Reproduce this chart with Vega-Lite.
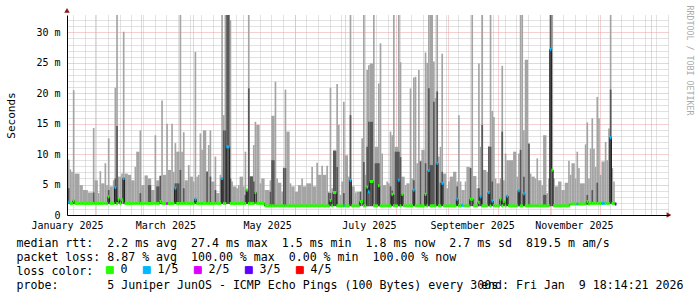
{
"$schema":"https://vega.github.io/schema/vega-lite/v6.json",
"width":602,"height":200,
"autosize":{"type":"none"},
"padding":{"left":67,"top":15,"right":28,"bottom":82},
"background":"white",
"config":{"view":{"stroke":null},"font":"DejaVu Sans Mono","axis":{"labelFont":"DejaVu Sans Mono","titleFont":"DejaVu Sans Mono","labelColor":"#000","titleColor":"#000","titleFontWeight":"normal","domainColor":"#000"}},
"data":{"values":[
{"t":"2025/1/15 12:00","e":"2025/1/17","b":1.8,"h":9.1,"d":4.4,"m":2.1,"l":1},
{"t":"2025/1/17","e":"2025/1/18","b":1.8,"h":7.5,"m":1.9,"l":0},
{"t":"2025/1/18","e":"2025/1/19","b":1.8,"h":7.1,"m":1.9,"l":0},
{"t":"2025/1/19","e":"2025/1/20","b":1.8,"h":20.5,"d":2.5,"m":2.3,"l":0},
{"t":"2025/1/20","e":"2025/1/23","b":1.8,"h":6.8,"m":1.9,"l":0},
{"t":"2025/1/23","e":"2025/1/25","b":1.8,"h":4.9,"m":1.9,"l":0},
{"t":"2025/1/25","e":"2025/1/28","b":1.8,"h":4.1,"m":1.9,"l":0},
{"t":"2025/1/28","e":"2025/1/31","b":1.8,"h":3.7,"m":1.9,"l":0},
{"t":"2025/1/31","e":"2025/2/1","b":1.8,"h":14.3,"d":3.7,"m":1.9,"l":0},
{"t":"2025/2/1","e":"2025/2/3","b":1.8,"h":5.7,"m":1.9,"l":0},
{"t":"2025/2/3","e":"2025/2/4","b":1.8,"h":3.6,"m":1.9,"l":0},
{"t":"2025/2/4","e":"2025/2/5","b":1.8,"h":7.2,"m":1.9,"l":0},
{"t":"2025/2/5","e":"2025/2/7","b":1.8,"h":5.2,"m":1.9,"l":0},
{"t":"2025/2/7","e":"2025/2/8","b":1.8,"h":8.5,"m":1.9,"l":0},
{"t":"2025/2/8","e":"2025/2/9","b":1.8,"h":4.9,"m":1.9,"l":0},
{"t":"2025/2/9","e":"2025/2/10","b":1.8,"h":12.6,"d":4.1,"m":3.0,"l":0},
{"t":"2025/2/10","e":"2025/2/12","b":1.8,"h":4.7,"m":1.9,"l":0},
{"t":"2025/2/12","e":"2025/2/13","b":1.8,"h":5.7,"m":1.9,"l":0},
{"t":"2025/2/13","e":"2025/2/14","b":1.8,"h":20.9,"d":6,"m":4.5,"l":1},
{"t":"2025/2/14","e":"2025/2/15","b":1.8,"h":34,"d":14.6,"m":1.9,"l":0},
{"t":"2025/2/15","e":"2025/2/16","b":1.8,"h":6.3,"m":2.6,"l":0},
{"t":"2025/2/16","e":"2025/2/17","b":1.8,"h":6.3,"m":1.9,"l":0},
{"t":"2025/2/17","e":"2025/2/18","b":1.8,"h":6.8,"m":2.5,"l":0},
{"t":"2025/2/18","e":"2025/2/19","b":1.8,"h":30.1,"d":6,"m":6,"l":1},
{"t":"2025/2/19","e":"2025/2/21","b":1.8,"h":6.8,"m":1.9,"l":0},
{"t":"2025/2/21","e":"2025/2/23","b":1.8,"h":6.6,"m":1.9,"l":0},
{"t":"2025/2/23","e":"2025/2/25","b":1.8,"h":5.7,"m":1.9,"l":0},
{"t":"2025/2/25","e":"2025/2/26","b":1.8,"h":7.9,"m":1.9,"l":0},
{"t":"2025/2/26","e":"2025/2/28","b":1.8,"h":10.4,"m":1.9,"l":0},
{"t":"2025/2/28","e":"2025/3/1","b":1.8,"h":13.9,"d":3.6,"m":1.9,"l":0},
{"t":"2025/3/1","e":"2025/3/3","b":1.8,"h":4.9,"m":1.9,"l":0},
{"t":"2025/3/3","e":"2025/3/5","b":1.8,"h":6.5,"m":1.9,"l":0},
{"t":"2025/3/5","e":"2025/3/7","b":1.8,"h":6.0,"d":4.9,"m":1.9,"l":0},
{"t":"2025/3/7","e":"2025/3/9","b":1.8,"h":4.1,"m":1.9,"l":0},
{"t":"2025/3/9","e":"2025/3/10","b":1.8,"h":13.1,"m":1.9,"l":0},
{"t":"2025/3/10","e":"2025/3/12","b":1.8,"h":5.7,"d":4.7,"m":1.9,"l":0},
{"t":"2025/3/12","e":"2025/3/13","b":1.8,"h":6.5,"d":6.4,"m":2.2,"l":0},
{"t":"2025/3/13","e":"2025/3/14","b":1.8,"h":18.8,"m":1.9,"l":0},
{"t":"2025/3/14","e":"2025/3/16","b":1.8,"h":6.6,"m":1.9,"l":0},
{"t":"2025/3/16","e":"2025/3/17","b":1.8,"h":15,"m":1.9,"l":2},
{"t":"2025/3/17","e":"2025/3/19","b":1.8,"h":7.4,"m":1.9,"l":0},
{"t":"2025/3/19","e":"2025/3/20","b":1.8,"h":15,"m":1.9,"l":0},
{"t":"2025/3/20","e":"2025/3/21","b":1.8,"h":7.1,"m":1.9,"l":0},
{"t":"2025/3/21","e":"2025/3/22","b":1.8,"h":11.8,"d":5.2,"m":4.4,"l":1},
{"t":"2025/3/22","e":"2025/3/24","b":1.8,"h":10.4,"d":5.2,"m":1.9,"l":0},
{"t":"2025/3/24","e":"2025/3/25","b":1.8,"h":34,"d":7.4,"m":1.9,"l":0},
{"t":"2025/3/25","e":"2025/3/26","b":1.8,"h":10.4,"m":1.9,"l":0},
{"t":"2025/3/26","e":"2025/3/27","b":1.8,"h":13.6,"d":4.4,"m":1.9,"l":0},
{"t":"2025/3/27","e":"2025/3/29","b":1.8,"h":5.7,"m":1.9,"l":0},
{"t":"2025/3/29","e":"2025/3/30","b":1.8,"h":8.2,"m":1.9,"l":0},
{"t":"2025/3/30","e":"2025/4/1","b":1.8,"h":6.3,"m":1.9,"l":0},
{"t":"2025/4/1","e":"2025/4/2","b":1.8,"h":5.5,"m":1.9,"l":0},
{"t":"2025/4/2","e":"2025/4/3","b":1.8,"h":26.8,"d":2.6,"m":2.6,"l":1},
{"t":"2025/4/3","e":"2025/4/4","b":1.8,"h":6.3,"m":1.9,"l":0},
{"t":"2025/4/4","e":"2025/4/5","b":1.8,"h":6.6,"m":1.9,"l":0},
{"t":"2025/4/5","e":"2025/4/6","b":1.8,"h":13.4,"m":1.9,"l":0},
{"t":"2025/4/6","e":"2025/4/7","b":1.8,"h":10.7,"m":1.9,"l":0},
{"t":"2025/4/7","e":"2025/4/9","b":1.8,"h":13.9,"m":1.9,"l":0},
{"t":"2025/4/9","e":"2025/4/10","b":1.8,"h":7.2,"d":7.1,"m":1.9,"l":0},
{"t":"2025/4/10","e":"2025/4/11","b":1.8,"h":11.5,"m":1.9,"l":0},
{"t":"2025/4/11","e":"2025/4/12","b":1.8,"h":13.9,"d":6.3,"m":1.9,"l":0},
{"t":"2025/4/12","e":"2025/4/14","b":1.8,"h":5.5,"m":1.9,"l":0},
{"t":"2025/4/14","e":"2025/4/15","b":1.8,"h":9.6,"d":4.1,"m":1.9,"l":0},
{"t":"2025/4/15","e":"2025/4/17","b":1.8,"h":3.6,"m":1.9,"l":0},
{"t":"2025/4/17","e":"2025/4/18","b":1.8,"h":6.6,"m":1.9,"l":0},
{"t":"2025/4/18","e":"2025/4/19","b":1.8,"h":34,"d":6,"m":6,"l":1},
{"t":"2025/4/19","e":"2025/4/20","b":1.8,"h":16.4,"d":13.9,"m":1.9,"l":0},
{"t":"2025/4/20","e":"2025/4/21","b":1.8,"h":34,"d":13.9,"m":1.9,"l":0},
{"t":"2025/4/21","e":"2025/4/23","b":1.8,"h":34,"d":34,"m":11.2,"l":1},
{"t":"2025/4/23","e":"2025/4/24","b":1.8,"h":32,"d":6,"m":1.9,"l":0},
{"t":"2025/4/24","e":"2025/4/25","b":1.8,"h":5.5,"m":1.9,"l":0},
{"t":"2025/4/25","e":"2025/4/27","b":1.8,"h":4.7,"m":1.9,"l":0},
{"t":"2025/4/27","e":"2025/4/28","b":1.8,"h":4.4,"m":1.9,"l":0},
{"t":"2025/4/28","e":"2025/4/29","b":1.8,"h":4.9,"m":1.9,"l":0},
{"t":"2025/4/29","e":"2025/5/1","b":1.8,"h":6.3,"m":1.9,"l":0},
{"t":"2025/5/1","e":"2025/5/2","b":1.8,"h":4.7,"m":1.9,"l":0},
{"t":"2025/5/2","e":"2025/5/3","b":1.8,"h":10.4,"d":3.3,"m":1.9,"l":0},
{"t":"2025/5/3","e":"2025/5/4","b":1.8,"h":4.2,"d":4.1,"m":4.1,"l":0},
{"t":"2025/5/4","e":"2025/5/5","b":1.8,"h":34,"d":20.8,"m":1.9,"l":0},
{"t":"2025/5/5","e":"2025/5/7","b":1.8,"h":6.4,"d":6.3,"m":1.9,"l":0},
{"t":"2025/5/7","e":"2025/5/8","b":1.8,"h":11.5,"d":5.5,"m":1.9,"l":0},
{"t":"2025/5/8","e":"2025/5/9","b":1.8,"h":15.3,"m":3.7,"l":0},
{"t":"2025/5/9","e":"2025/5/11","b":1.8,"h":14.8,"m":1.9,"l":0},
{"t":"2025/5/11","e":"2025/5/12","b":1.8,"h":5.2,"m":1.9,"l":0},
{"t":"2025/5/12","e":"2025/5/14","b":1.8,"h":6.0,"m":1.9,"l":0},
{"t":"2025/5/14","e":"2025/5/17","b":1.45,"h":4.1,"m":1.5,"l":0},
{"t":"2025/5/17","e":"2025/5/18","b":1.45,"h":5.7,"d":3.8,"m":1.5,"l":0},
{"t":"2025/5/18","e":"2025/5/20","b":1.45,"h":16.3,"d":9.0,"m":1.5,"l":0},
{"t":"2025/5/20","e":"2025/5/21","b":1.45,"h":21.9,"m":1.5,"l":0},
{"t":"2025/5/21","e":"2025/5/22","b":1.45,"h":6.0,"m":1.5,"l":0},
{"t":"2025/5/22","e":"2025/5/24","b":1.45,"h":5.3,"m":1.5,"l":0},
{"t":"2025/5/24","e":"2025/5/25","b":1.45,"h":3.8,"m":1.5,"l":0},
{"t":"2025/5/25","e":"2025/5/26","b":1.45,"h":7.8,"d":7.7,"m":1.5,"l":0},
{"t":"2025/5/26","e":"2025/5/27","b":1.45,"h":20.6,"d":7.7,"m":1.5,"l":0},
{"t":"2025/5/27","e":"2025/5/29","b":1.45,"h":13.7,"m":1.5,"l":0},
{"t":"2025/5/29","e":"2025/5/30","b":1.45,"h":5.2,"m":1.5,"l":0},
{"t":"2025/5/30","e":"2025/6/1","b":1.45,"h":4.7,"m":1.5,"l":0},
{"t":"2025/6/1","e":"2025/6/3","b":1.45,"h":3.8,"m":1.5,"l":0},
{"t":"2025/6/3","e":"2025/6/5","b":1.45,"h":4.9,"m":1.5,"l":0},
{"t":"2025/6/5","e":"2025/6/6","b":1.45,"h":6.0,"m":1.5,"l":0},
{"t":"2025/6/6","e":"2025/6/8","b":1.45,"h":4.7,"m":1.5,"l":0},
{"t":"2025/6/8","e":"2025/6/11","b":1.45,"h":5.2,"m":1.5,"l":0},
{"t":"2025/6/11","e":"2025/6/12","b":1.45,"h":7.9,"m":1.5,"l":0},
{"t":"2025/6/12","e":"2025/6/14","b":1.45,"h":4.7,"m":1.5,"l":0},
{"t":"2025/6/14","e":"2025/6/15","b":1.45,"h":8.6,"m":1.5,"l":0},
{"t":"2025/6/15","e":"2025/6/17","b":1.45,"h":6.6,"m":1.5,"l":0},
{"t":"2025/6/17","e":"2025/6/18","b":1.45,"h":8.1,"m":1.5,"l":0},
{"t":"2025/6/18","e":"2025/6/20","b":1.45,"h":6.6,"m":1.5,"l":0},
{"t":"2025/6/20","e":"2025/6/21","b":1.45,"h":8.1,"m":1.5,"l":0},
{"t":"2025/6/21","e":"2025/6/22","b":1.45,"h":3.8,"d":3.6,"m":1.5,"l":0},
{"t":"2025/6/22","e":"2025/6/23","b":1.45,"h":20.9,"d":3.6,"m":2.4,"l":0},
{"t":"2025/6/23","e":"2025/6/24","b":1.45,"h":4.4,"m":1.5,"l":0},
{"t":"2025/6/24","e":"2025/6/26","b":1.45,"h":10.7,"d":10.5,"m":3.7,"l":0},
{"t":"2025/6/26","e":"2025/6/27","b":1.45,"h":21.5,"d":7.9,"m":1.5,"l":0},
{"t":"2025/6/27","e":"2025/6/28","b":1.45,"h":14.8,"m":1.5,"l":0},
{"t":"2025/6/28","e":"2025/6/29","b":1.45,"h":3.3,"m":1.5,"l":0},
{"t":"2025/6/29","e":"2025/6/30","b":1.45,"h":5.5,"m":1.5,"l":0},
{"t":"2025/6/30","e":"2025/7/1","b":1.45,"h":18.6,"d":3.6,"m":1.5,"l":1},
{"t":"2025/7/1","e":"2025/7/3","b":1.45,"h":9.8,"m":1.5,"l":0},
{"t":"2025/7/3","e":"2025/7/4","b":1.45,"h":6.3,"m":1.5,"l":0},
{"t":"2025/7/4","e":"2025/7/5","b":1.45,"h":34,"d":16.4,"m":5.7,"l":1},
{"t":"2025/7/5","e":"2025/7/7","b":1.45,"h":4.7,"m":1.5,"l":0},
{"t":"2025/7/7","e":"2025/7/8","b":1.45,"h":3.7,"m":1.5,"l":0},
{"t":"2025/7/8","e":"2025/7/10","b":1.45,"h":3.8,"m":1.5,"l":0},
{"t":"2025/7/10","e":"2025/7/11","b":1.45,"h":3.9,"d":3.8,"m":2.2,"l":0},
{"t":"2025/7/11","e":"2025/7/12","b":1.45,"h":12.6,"m":2.2,"l":0},
{"t":"2025/7/12","e":"2025/7/13","b":1.45,"h":34,"d":8.7,"m":1.5,"l":0},
{"t":"2025/7/13","e":"2025/7/14","b":1.45,"h":6.6,"m":1.5,"l":0},
{"t":"2025/7/14","e":"2025/7/15","b":1.45,"h":23.8,"d":11.2,"m":4.6,"l":0},
{"t":"2025/7/15","e":"2025/7/16","b":1.45,"h":24.6,"d":15.3,"m":3.8,"l":1},
{"t":"2025/7/16","e":"2025/7/18","b":1.45,"h":24.9,"d":15.3,"m":5.5,"l":0},
{"t":"2025/7/18","e":"2025/7/19","b":1.45,"h":34,"m":1.5,"l":0},
{"t":"2025/7/19","e":"2025/7/21","b":1.45,"h":11.2,"d":8.5,"m":1.5,"l":0},
{"t":"2025/7/21","e":"2025/7/22","b":1.45,"h":21.6,"d":8.5,"m":4.8,"l":0},
{"t":"2025/7/22","e":"2025/7/23","b":1.45,"h":28.2,"m":1.5,"l":0},
{"t":"2025/7/23","e":"2025/7/24","b":1.45,"h":10.1,"m":1.5,"l":0},
{"t":"2025/7/24","e":"2025/7/26","b":1.45,"h":4.9,"m":1.5,"l":0},
{"t":"2025/7/26","e":"2025/7/27","b":1.45,"h":5.5,"m":1.5,"l":0},
{"t":"2025/7/27","e":"2025/7/28","b":1.45,"h":5.2,"m":1.5,"l":0},
{"t":"2025/7/28","e":"2025/7/29","b":1.45,"h":13.7,"d":4.7,"m":1.5,"l":0},
{"t":"2025/7/29","e":"2025/7/30","b":1.45,"h":13.1,"d":4.0,"m":3.4,"l":0},
{"t":"2025/7/30","e":"2025/7/31","b":1.45,"h":34,"d":3.3,"m":1.5,"l":0},
{"t":"2025/7/31","e":"2025/8/2","b":1.45,"h":11.2,"d":10.4,"m":1.5,"l":0},
{"t":"2025/8/2","e":"2025/8/3","b":1.45,"h":34,"d":10.4,"m":5.7,"l":1},
{"t":"2025/8/3","e":"2025/8/4","b":1.45,"h":25.1,"d":9.5,"m":1.5,"l":0},
{"t":"2025/8/4","e":"2025/8/5","b":1.45,"h":6.3,"d":3.5,"m":3.4,"l":0},
{"t":"2025/8/5","e":"2025/8/6","b":1.45,"h":6.3,"m":1.5,"l":0},
{"t":"2025/8/6","e":"2025/8/7","b":1.45,"h":4.9,"m":1.5,"l":0},
{"t":"2025/8/7","e":"2025/8/9","b":1.45,"h":5.2,"m":1.5,"l":0},
{"t":"2025/8/9","e":"2025/8/10","b":1.45,"h":20.8,"m":1.5,"l":0},
{"t":"2025/8/10","e":"2025/8/11","b":1.45,"h":6.0,"m":1.5,"l":0},
{"t":"2025/8/11","e":"2025/8/12","b":1.45,"h":22.6,"d":5.7,"m":4.1,"l":1},
{"t":"2025/8/12","e":"2025/8/13","b":1.45,"h":22.7,"m":1.5,"l":0},
{"t":"2025/8/13","e":"2025/8/14","b":1.45,"h":8.5,"m":1.5,"l":0},
{"t":"2025/8/14","e":"2025/8/15","b":1.45,"h":23.8,"m":1.5,"l":0},
{"t":"2025/8/15","e":"2025/8/16","b":1.45,"h":8.9,"d":8.8,"m":1.5,"l":0},
{"t":"2025/8/16","e":"2025/8/18","b":1.45,"h":10.7,"m":1.5,"l":0},
{"t":"2025/8/18","e":"2025/8/19","b":1.45,"h":26.7,"d":8.5,"m":3.4,"l":0},
{"t":"2025/8/19","e":"2025/8/20","b":1.45,"h":25,"m":1.5,"l":0},
{"t":"2025/8/20","e":"2025/8/21","b":1.45,"h":34,"d":20.8,"m":7.3,"l":1},
{"t":"2025/8/21","e":"2025/8/23","b":1.45,"h":34,"d":8.2,"m":1.5,"l":0},
{"t":"2025/8/23","e":"2025/8/24","b":1.45,"h":25.2,"d":18.6,"m":1.5,"l":0},
{"t":"2025/8/24","e":"2025/8/25","b":1.45,"h":19.2,"m":1.5,"l":0},
{"t":"2025/8/25","e":"2025/8/26","b":1.45,"h":34,"d":20.3,"m":8.5,"l":1},
{"t":"2025/8/26","e":"2025/8/27","b":1.45,"h":9.6,"m":1.5,"l":0},
{"t":"2025/8/27","e":"2025/8/28","b":1.45,"h":11.2,"d":5.3,"m":1.5,"l":0},
{"t":"2025/8/28","e":"2025/8/29","b":1.45,"h":26.5,"d":7.1,"m":5.2,"l":1},
{"t":"2025/8/29","e":"2025/8/31","b":1.45,"h":6.8,"m":1.5,"l":0},
{"t":"2025/8/31","e":"2025/9/1","b":1.45,"h":4.4,"m":1.5,"l":0},
{"t":"2025/9/1","e":"2025/9/2","b":1.45,"h":5.5,"m":1.5,"l":0},
{"t":"2025/9/2","e":"2025/9/4","b":1.45,"h":6.3,"m":1.5,"l":0},
{"t":"2025/9/4","e":"2025/9/6","b":1.45,"h":7.1,"m":1.5,"l":0},
{"t":"2025/9/6","e":"2025/9/7","b":1.45,"h":5.5,"d":4.7,"m":2.6,"l":1},
{"t":"2025/9/7","e":"2025/9/8","b":1.45,"h":16.4,"m":1.5,"l":0},
{"t":"2025/9/8","e":"2025/9/9","b":1.45,"h":5.5,"m":1.5,"l":0},
{"t":"2025/9/9","e":"2025/9/10","b":1.45,"h":4.1,"m":1.6,"l":1},
{"t":"2025/9/10","e":"2025/9/11","b":1.45,"h":4.1,"m":1.5,"l":0},
{"t":"2025/9/11","e":"2025/9/12","b":1.45,"h":5.5,"m":1.5,"l":0},
{"t":"2025/9/12","e":"2025/9/14","b":1.45,"h":7.9,"m":1.5,"l":0},
{"t":"2025/9/14","e":"2025/9/15","b":1.45,"h":7.8,"d":7.7,"m":2.6,"l":0},
{"t":"2025/9/15","e":"2025/9/16","b":1.45,"h":34,"d":2.6,"m":2.6,"l":0},
{"t":"2025/9/16","e":"2025/9/18","b":1.45,"h":6.4,"m":1.5,"l":0},
{"t":"2025/9/18","e":"2025/9/19","b":1.45,"h":4.4,"m":1.5,"l":0},
{"t":"2025/9/19","e":"2025/9/20","b":1.45,"h":24.9,"d":4.4,"m":2.1,"l":0},
{"t":"2025/9/20","e":"2025/9/21","b":1.45,"h":11.2,"d":3.0,"m":3.0,"l":1},
{"t":"2025/9/21","e":"2025/9/22","b":1.45,"h":34,"d":14.8,"m":1.5,"l":0},
{"t":"2025/9/22","e":"2025/9/24","b":1.45,"h":7.4,"m":1.5,"l":0},
{"t":"2025/9/24","e":"2025/9/25","b":1.45,"h":7.1,"m":1.5,"l":0},
{"t":"2025/9/25","e":"2025/9/26","b":1.45,"h":11.3,"d":11.2,"m":3.7,"l":1},
{"t":"2025/9/26","e":"2025/9/27","b":1.45,"h":34,"d":11.2,"m":1.5,"l":0},
{"t":"2025/9/27","e":"2025/9/28","b":1.45,"h":17.1,"d":5.5,"m":2.3,"l":1},
{"t":"2025/9/28","e":"2025/9/29","b":1.45,"h":16.1,"m":1.5,"l":0},
{"t":"2025/9/29","e":"2025/9/30","b":1.45,"h":6.0,"m":1.5,"l":0},
{"t":"2025/9/30","e":"2025/10/2","b":1.45,"h":5.2,"m":1.5,"l":0},
{"t":"2025/10/2","e":"2025/10/3","b":1.45,"h":6.0,"m":2.6,"l":0},
{"t":"2025/10/3","e":"2025/10/4","b":1.45,"h":24.5,"d":13.7,"m":1.5,"l":0},
{"t":"2025/10/4","e":"2025/10/5","b":1.45,"h":5.7,"m":2.2,"l":0},
{"t":"2025/10/5","e":"2025/10/6","b":1.45,"h":10.1,"m":1.5,"l":0},
{"t":"2025/10/6","e":"2025/10/7","b":1.45,"h":9.0,"d":3.1,"m":3.1,"l":1},
{"t":"2025/10/7","e":"2025/10/10","b":1.45,"h":9.0,"m":1.5,"l":0},
{"t":"2025/10/10","e":"2025/10/12","b":1.45,"h":10.4,"m":1.5,"l":0},
{"t":"2025/10/12","e":"2025/10/13","b":1.45,"h":6.3,"m":1.5,"l":0},
{"t":"2025/10/13","e":"2025/10/14","b":1.45,"h":10.1,"d":4.0,"m":4.0,"l":1},
{"t":"2025/10/14","e":"2025/10/15","b":1.45,"h":34,"d":10.7,"m":1.5,"l":0},
{"t":"2025/10/15","e":"2025/10/16","b":1.45,"h":34,"m":1.5,"l":0},
{"t":"2025/10/16","e":"2025/10/17","b":1.45,"h":13.9,"d":6.3,"m":3.5,"l":1},
{"t":"2025/10/17","e":"2025/10/19","b":1.45,"h":25.5,"m":1.5,"l":0},
{"t":"2025/10/19","e":"2025/10/20","b":1.45,"h":11.8,"d":11.7,"m":1.5,"l":0},
{"t":"2025/10/20","e":"2025/10/21","b":1.45,"h":6.8,"m":1.5,"l":0},
{"t":"2025/10/21","e":"2025/10/23","b":1.45,"h":6.3,"m":1.5,"l":0},
{"t":"2025/10/23","e":"2025/10/24","b":1.45,"h":6.0,"m":1.5,"l":0},
{"t":"2025/10/24","e":"2025/10/25","b":1.45,"h":9.3,"m":1.5,"l":0},
{"t":"2025/10/25","e":"2025/10/27","b":1.45,"h":5.7,"m":1.5,"l":0},
{"t":"2025/10/27","e":"2025/10/28","b":1.45,"h":4.9,"m":1.5,"l":0},
{"t":"2025/10/28","e":"2025/10/30","b":1.45,"h":13.1,"d":3.3,"m":1.5,"l":0},
{"t":"2025/10/30","e":"2025/10/31","b":1.45,"h":3.6,"m":1.5,"l":0},
{"t":"2025/10/31","e":"2025/11/1","b":1.45,"h":6.0,"m":1.5,"l":0},
{"t":"2025/11/1","e":"2025/11/2","b":1.45,"h":34,"d":34,"m":27.2,"l":1},
{"t":"2025/11/2","e":"2025/11/3","b":1.45,"h":34,"d":7.4,"m":7.4,"l":0},
{"t":"2025/11/3","e":"2025/11/4","b":1.45,"h":6.0,"m":1.5,"l":0},
{"t":"2025/11/4","e":"2025/11/6","b":1.45,"h":4.7,"m":1.5,"l":0},
{"t":"2025/11/6","e":"2025/11/8","b":1.45,"h":5.5,"m":1.5,"l":0},
{"t":"2025/11/8","e":"2025/11/10","b":1.45,"h":4.1,"m":1.5,"l":0},
{"t":"2025/11/10","e":"2025/11/12","b":1.45,"h":5.3,"m":1.5,"l":0},
{"t":"2025/11/12","e":"2025/11/13","b":1.45,"h":8.9,"m":1.5,"l":0},
{"t":"2025/11/13","e":"2025/11/14","b":1.7,"h":6.6,"m":1.8,"l":0},
{"t":"2025/11/14","e":"2025/11/16","b":1.7,"h":8.5,"m":1.8,"l":0},
{"t":"2025/11/16","e":"2025/11/17","b":1.7,"h":6.0,"m":1.8,"l":0},
{"t":"2025/11/17","e":"2025/11/18","b":1.7,"h":10.4,"m":1.8,"l":1},
{"t":"2025/11/18","e":"2025/11/19","b":1.7,"h":7.7,"m":1.8,"l":0},
{"t":"2025/11/19","e":"2025/11/22","b":1.7,"h":5.2,"m":1.8,"l":0},
{"t":"2025/11/22","e":"2025/11/23","b":1.7,"h":11.6,"m":1.8,"l":0},
{"t":"2025/11/23","e":"2025/11/24","b":1.7,"h":15.2,"d":3.3,"m":2.2,"l":0},
{"t":"2025/11/24","e":"2025/11/25","b":1.7,"h":6.0,"m":1.8,"l":0},
{"t":"2025/11/25","e":"2025/11/26","b":1.8,"h":10.9,"m":1.9,"l":0},
{"t":"2025/11/26","e":"2025/11/27","b":1.8,"h":15.9,"d":4.1,"m":1.9,"l":0},
{"t":"2025/11/27","e":"2025/11/28","b":1.8,"h":10.9,"m":1.9,"l":0},
{"t":"2025/11/28","e":"2025/11/29","b":1.8,"h":7.9,"m":1.9,"l":0},
{"t":"2025/11/29","e":"2025/11/30","b":1.8,"h":19.4,"d":5.3,"m":1.9,"l":0},
{"t":"2025/11/30","e":"2025/12/1","b":1.8,"h":15.9,"m":1.9,"l":0},
{"t":"2025/12/1","e":"2025/12/2","b":1.8,"h":6.6,"m":1.9,"l":0},
{"t":"2025/12/2","e":"2025/12/4","b":1.8,"h":8.8,"m":1.9,"l":1},
{"t":"2025/12/4","e":"2025/12/5","b":1.8,"h":12.0,"m":1.9,"l":0},
{"t":"2025/12/5","e":"2025/12/6","b":1.8,"h":9.0,"m":1.9,"l":0},
{"t":"2025/12/6","e":"2025/12/7","b":1.8,"h":14.2,"m":1.9,"l":0},
{"t":"2025/12/7","e":"2025/12/8","b":1.8,"h":34,"d":20.6,"m":12.7,"l":1},
{"t":"2025/12/8","e":"2025/12/9","b":1.8,"h":7.7,"m":1.9,"l":0},
{"t":"2025/12/9","e":"2025/12/10","b":1.8,"h":5.5,"m":1.9,"l":0},
{"t":"2025/12/10","e":"2025/12/11","b":1.8,"h":2.0,"m":1.8,"l":3}
]},
"layer":[
{"mark":{"type":"rect","color":"#a4a4a4","clip":true},
 "encoding":{
  "x":{"field":"t","type":"temporal","scale":{"domain":[{"year":2025,"month":1,"date":15,"hours":12},{"year":2026,"month":1,"date":11,"hours":12}],"nice":false},
   "axis":{"orient":"bottom","values":[{"year":2025,"month":1,"date":15,"hours":12},{"year":2025,"month":3,"date":15,"hours":12},{"year":2025,"month":5,"date":15,"hours":12},{"year":2025,"month":7,"date":15,"hours":12},{"year":2025,"month":9,"date":15,"hours":12},{"year":2025,"month":11,"date":15,"hours":12}],"format":"%B %Y","grid":false,"ticks":false,"tickSize":0,"labelPadding":5,"labelFontSize":10,"labelFlush":false,"labelOverlap":false,"labelBound":false,"title":null,"domainColor":"#000","zindex":1}},
  "x2":{"field":"e"},
  "y":{"field":"h","type":"quantitative","scale":{"domain":[0,32.85],"nice":false,"zero":false},
   "axis":{"orient":"left","values":[0,5,10,15,20,25,30],"labelExpr":"datum.value == 0 ? '0' : datum.value + ' m'","grid":false,"ticks":false,"tickSize":0,"labelPadding":7,"labelFontSize":10,"domainColor":"#000","title":"Seconds","titleFontSize":11,"titleX":-56,"titleY":100,"titleAngle":-90,"titleAlign":"center","titleBaseline":"middle","zindex":1}},
  "y2":{"field":"b"}}},
{"mark":{"type":"rect","color":"#585858","clip":true},
 "encoding":{
  "x":{"field":"t","type":"temporal",
   "axis":{"orient":"bottom","values":[{"year":2025,"month":2,"date":1},{"year":2025,"month":3,"date":1},{"year":2025,"month":4,"date":1},{"year":2025,"month":5,"date":1},{"year":2025,"month":6,"date":1},{"year":2025,"month":7,"date":1},{"year":2025,"month":8,"date":1},{"year":2025,"month":9,"date":1},{"year":2025,"month":10,"date":1},{"year":2025,"month":11,"date":1},{"year":2025,"month":12,"date":1},{"year":2026,"month":1,"date":1}],"grid":true,"gridColor":"#e9a0a0","gridDash":[1,1],"labels":false,"ticks":false,"domain":false,"zindex":0,
    "title":["median rtt:\u00a0\u00a02.2 ms avg\u00a0\u00a027.4 ms max\u00a0\u00a01.5 ms min\u00a0\u00a01.8 ms now\u00a0\u00a02.7 ms sd\u00a0\u00a0819.5 m am/s","packet loss: 8.87 % avg\u00a0\u00a0100.00 % max\u00a0\u00a00.00 % min\u00a0\u00a0100.00 % now","loss color:","probe:\u00a0\u00a0\u00a0\u00a0\u00a0\u00a0\u00a05 Juniper JunOS - ICMP Echo Pings (100 Bytes) every 300s"],
    "titleX":-51,"titleY":22,"titleAlign":"left","titleBaseline":"top","titleFontSize":11.6,"titleLineHeight":14,"titleLimit":2000,"titleAngle":0}},
  "x2":{"field":"e"},
  "y":{"field":"d","type":"quantitative",
   "axis":{"orient":"left","values":[5,10,15,20,25,30],"grid":true,"gridColor":"#e9a0a0","gridDash":[1,1],"labels":false,"ticks":false,"domain":false,"title":null,"zindex":0}},
  "y2":{"field":"b"}}},
{"mark":{"type":"line","interpolate":"step-after","color":"#1e1e1e","strokeWidth":1,"clip":true},
 "encoding":{
  "x":{"field":"t","type":"temporal",
   "axis":{"orient":"bottom","tickCount":{"interval":"week","step":1},"grid":true,"gridColor":"#c4c4c4","gridDash":[1,1],"labels":false,"ticks":false,"domain":false,"zindex":0,
    "title":"end: Fri Jan\u00a0\u00a09 18:14:21 2026","titleX":616,"titleY":64,"titleAlign":"right","titleBaseline":"top","titleFontSize":11.6,"titleLimit":2000,"titleAngle":0}},
  "y":{"field":"m","type":"quantitative",
   "axis":{"orient":"left","values":[1,2,3,4,6,7,8,9,11,12,13,14,16,17,18,19,21,22,23,24,26,27,28,29,31,32],"grid":true,"gridColor":"#c4c4c4","gridDash":[1,1],"labels":false,"ticks":false,"domain":false,"title":null,"zindex":0}}}},
{"mark":{"type":"rule","strokeWidth":3,"clip":true},
 "encoding":{
  "x":{"field":"t","type":"temporal","axis":null},
  "x2":{"field":"e"},
  "y":{"field":"m","type":"quantitative",
   "axis":{"orient":"right","labels":false,"ticks":false,"domain":false,"grid":false,"title":"RRDTOOL / TOBI OETIKER","titleAngle":90,"titleX":19,"titleY":-10,"titleAlign":"left","titleBaseline":"middle","titleFontSize":8.3,"titleColor":"#aaaaaa"}},
  "color":{"field":"l","type":"nominal","scale":{"domain":[0,1,2,3,4],"range":["#26ff00","#00b8ff","#dd00ff","#5e00ff","#ff0000"]},
   "legend":{"orient":"none","legendX":37,"legendY":249,"direction":"horizontal","title":null,"labelExpr":"datum.value == 0 ? '0' : datum.value + '/5'","labelFont":"DejaVu Sans Mono","labelFontSize":11.6,"labelColor":"#000","labelOffset":5,"columnPadding":13,"symbolType":"square","symbolSize":49,"symbolStrokeWidth":1,"symbolStrokeColor":"#000","symbolOpacity":1,
    "encode":{"symbols":{"update":{"fill":{"scale":"color","field":"value"},"stroke":{"value":"#000"},"strokeWidth":{"value":1},"opacity":{"value":1}}}}}}}},
{"data":{"values":[{}]},
 "mark":{"type":"point","shape":"triangle-right","filled":true,"color":"#8b1a1a","size":30,"opacity":1,"clip":false},
 "encoding":{"x":{"datum":{"year":2026,"month":1,"date":11,"hours":12},"type":"temporal","axis":null},"y":{"datum":0,"type":"quantitative","axis":null}}},
{"data":{"values":[{}]},
 "mark":{"type":"point","shape":"triangle-up","filled":true,"color":"#8b1a1a","size":30,"opacity":1,"clip":false},
 "encoding":{"x":{"datum":{"year":2025,"month":1,"date":15,"hours":12},"type":"temporal","axis":null},"y":{"datum":33.6,"type":"quantitative","axis":null}}}
],
"resolve":{"axis":{"x":"independent","y":"independent"}}
}
